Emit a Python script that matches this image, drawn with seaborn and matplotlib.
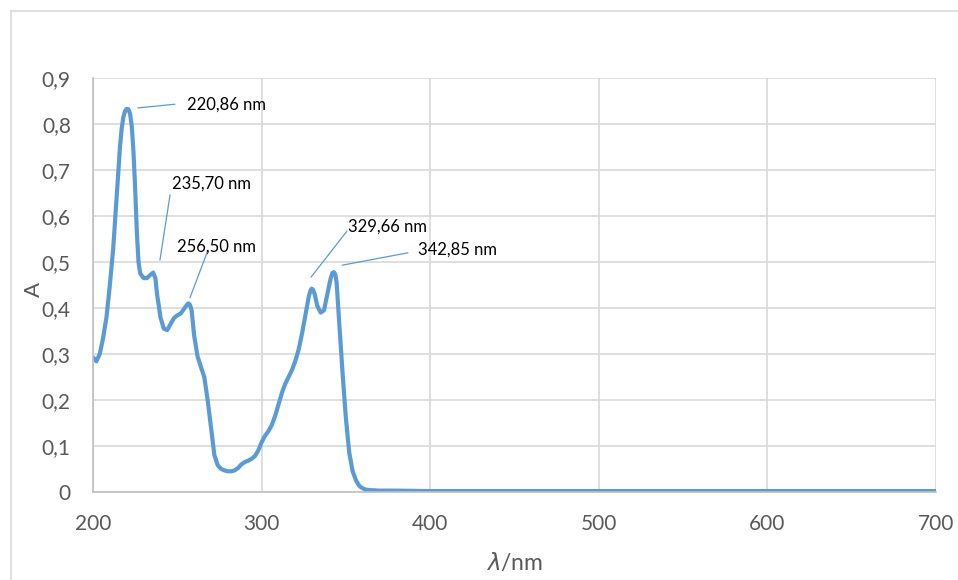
import matplotlib
matplotlib.use("Agg")
import matplotlib.pyplot as plt
import seaborn as sns
import pandas as pd
from matplotlib.lines import Line2D
from matplotlib.ticker import FuncFormatter, MultipleLocator

# wavelength (nm) and absorbance
wavelength = [200, 202, 204, 206, 208, 210, 212, 214, 216, 217, 218, 219, 220, 221, 222, 223,
              224, 225, 226, 227, 228, 230, 232, 234, 235.7, 237, 238, 240, 242, 244, 246,
              248, 250, 252, 254, 255.5, 256.5, 257.5, 258.5, 260, 262, 264, 266, 268, 270,
              272, 274, 276, 278, 280, 282, 284, 286, 288, 290, 292, 294, 296, 298, 300, 302,
              304, 306, 308, 310, 312, 314, 316, 318, 320, 322, 324, 326, 328, 329, 329.7,
              330.5, 331.5, 333, 335, 337, 339, 341, 342, 342.9, 343.8, 344.5, 346, 348, 350,
              352, 354, 356, 358, 360, 362, 365, 370, 380, 400, 450, 500, 550, 600, 650, 700]
absorbance = [0.293, 0.284, 0.300, 0.335, 0.380, 0.450, 0.530, 0.640, 0.750, 0.790, 0.815,
              0.828, 0.833, 0.832, 0.822, 0.795, 0.740, 0.660, 0.565, 0.500, 0.475, 0.465,
              0.465, 0.472, 0.477, 0.465, 0.430, 0.380, 0.355, 0.352, 0.365, 0.378, 0.384,
              0.388, 0.398, 0.406, 0.410, 0.407, 0.395, 0.340, 0.295, 0.272, 0.250, 0.200,
              0.140, 0.080, 0.058, 0.050, 0.047, 0.045, 0.045, 0.047, 0.052, 0.060, 0.065,
              0.068, 0.072, 0.078, 0.090, 0.108, 0.122, 0.132, 0.145, 0.165, 0.190, 0.215,
              0.235, 0.250, 0.265, 0.285, 0.310, 0.345, 0.385, 0.425, 0.438, 0.442, 0.440,
              0.430, 0.405, 0.390, 0.395, 0.430, 0.465, 0.476, 0.478, 0.472, 0.455, 0.370,
              0.260, 0.160, 0.085, 0.045, 0.025, 0.013, 0.008, 0.005, 0.004, 0.003, 0.003,
              0.002, 0.002, 0.002, 0.002, 0.002, 0.002, 0.002]

# peak labels: text, point the leader starts at, end of leader, text anchor
peak_labels = ["220,86 nm", "235,70 nm", "256,50 nm", "329,66 nm", "342,85 nm"]
leader_start = [(226.7, 0.835), (239.7, 0.504), (257.5, 0.422), (329.3, 0.467), (347.7, 0.493)]
leader_end = [(248.6, 0.843), (245.7, 0.646), (268.2, 0.526), (350.6, 0.567), (386.8, 0.520)]
text_pos = [(255.5, 0.843), (247.0, 0.670), (249.8, 0.533), (351.5, 0.576), (392.5, 0.526)]

df = pd.DataFrame({"wl": wavelength, "A": absorbance})

sns.set_theme(style="whitegrid")
plt.rcParams["font.family"] = ["Lato", "DejaVu Sans"]

fig = plt.figure(figsize=(9.58, 5.8), dpi=100)
ax = fig.add_axes([93 / 958, 88 / 580, 843 / 958, 414 / 580])

sns.lineplot(data=df, x="wl", y="A", ax=ax, color="#5b9bd5", linewidth=3.0)

for lab, s, e, t in zip(peak_labels, leader_start, leader_end, text_pos):
    ax.plot([s[0], e[0]], [s[1], e[1]], color="#5b9bd5", linewidth=0.9)
    ax.text(t[0], t[1], lab, fontsize=12, color="black", va="center", ha="left")

ax.set_xlim(200, 700)
ax.set_ylim(0, 0.9)
ax.xaxis.set_major_locator(MultipleLocator(100))
ax.yaxis.set_major_locator(MultipleLocator(0.1))
ax.yaxis.set_major_formatter(FuncFormatter(lambda v, p: "0" if abs(v) < 1e-9 else f"{v:.1f}".replace(".", ",")))
ax.tick_params(axis="both", labelsize=15, colors="#595959", length=0)
ax.tick_params(axis="y", pad=16)
ax.tick_params(axis="x", pad=16)

ax.grid(True, color="#d9d9d9", linewidth=1.2)
for side in ["top", "right"]:
    ax.spines[side].set_visible(False)
for side in ["left", "bottom"]:
    ax.spines[side].set_color("#bfbfbf")
    ax.spines[side].set_linewidth(1.2)

ax.set_xlabel(r"$\mathit{\lambda}$/nm", fontsize=16.5, color="#595959", labelpad=12)
ax.set_ylabel("A", fontsize=16, color="#595959")
ax.yaxis.set_label_coords(-0.058, 0.49)

# outer chart frame (left and top edges visible)
fig.add_artist(Line2D([10.5 / 958, 10.5 / 958], [0, 1 - 11 / 580], color="#d9d9d9", linewidth=1.2))
fig.add_artist(Line2D([10.5 / 958, 1], [1 - 11 / 580, 1 - 11 / 580], color="#d9d9d9", linewidth=1.2))

fig.savefig("out.png", dpi=100)
